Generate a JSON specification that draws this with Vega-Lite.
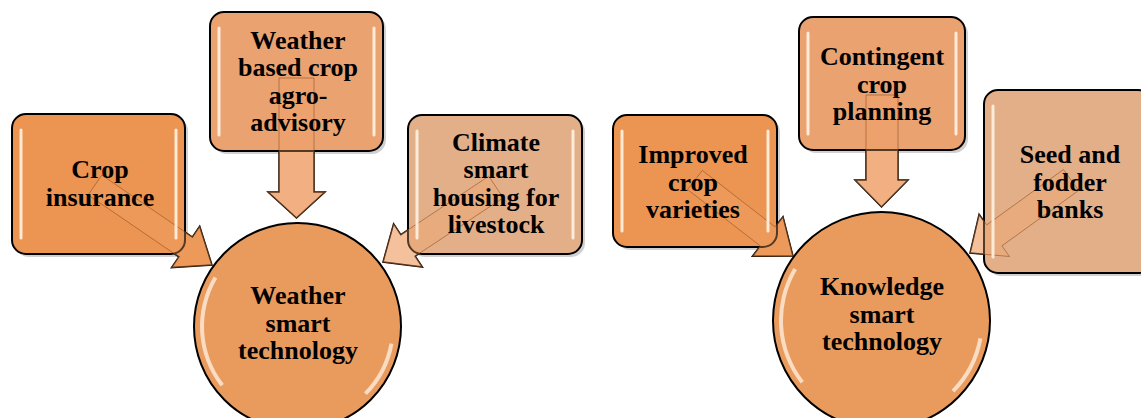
{
  "$schema": "https://vega.github.io/schema/vega-lite/v6.json",
  "width": 1141,
  "height": 418,
  "autosize": {"type": "fit", "contains": "padding"},
  "padding": 0,
  "background": "white",
  "config": {"view": {"stroke": null}},
  "datasets": {
    "boxes": [
      {"id": "b1", "x": 12, "x2": 185, "y": 114, "y2": 254, "tone": "orange"},
      {"id": "b2", "x": 210, "x2": 383, "y": 12, "y2": 151, "tone": "light"},
      {"id": "b3", "x": 408, "x2": 582, "y": 115, "y2": 254, "tone": "peach"},
      {"id": "b4", "x": 613, "x2": 777, "y": 115, "y2": 247, "tone": "orange"},
      {"id": "b5", "x": 799, "x2": 965, "y": 17, "y2": 150, "tone": "light"},
      {"id": "b6", "x": 984, "x2": 1152, "y": 90, "y2": 273, "tone": "peach"}
    ],
    "circles": [
      {"id": "c1", "x": 297.5, "y": 326.5, "d": 207, "tone": "circle"},
      {"id": "c2", "x": 881.5, "y": 320.5, "d": 217, "tone": "circle"}
    ],
    "arrows": [
      {"id": "a1", "i": 1, "x": 88.2, "y": 194.9, "tone": "orange"},
      {"id": "a1", "i": 2, "x": 178.8, "y": 256.8, "tone": "orange"},
      {"id": "a1", "i": 3, "x": 171.5, "y": 267.6, "tone": "orange"},
      {"id": "a1", "i": 4, "x": 212, "y": 265, "tone": "orange"},
      {"id": "a1", "i": 5, "x": 199.7, "y": 226.2, "tone": "orange"},
      {"id": "a1", "i": 6, "x": 192.4, "y": 237.0, "tone": "orange"},
      {"id": "a1", "i": 7, "x": 101.8, "y": 175.1, "tone": "orange"},
      {"id": "a1", "i": 8, "x": 88.2, "y": 194.9, "tone": "orange"},

      {"id": "a2", "i": 1, "x": 279, "y": 78, "tone": "arrowLight"},
      {"id": "a2", "i": 2, "x": 279, "y": 192, "tone": "arrowLight"},
      {"id": "a2", "i": 3, "x": 268, "y": 192, "tone": "arrowLight"},
      {"id": "a2", "i": 4, "x": 296.5, "y": 218, "tone": "arrowLight"},
      {"id": "a2", "i": 5, "x": 325, "y": 192, "tone": "arrowLight"},
      {"id": "a2", "i": 6, "x": 314, "y": 192, "tone": "arrowLight"},
      {"id": "a2", "i": 7, "x": 314, "y": 78, "tone": "arrowLight"},
      {"id": "a2", "i": 8, "x": 279, "y": 78, "tone": "arrowLight"},

      {"id": "a3", "i": 1, "x": 488.8, "y": 176.2, "tone": "arrowPeach"},
      {"id": "a3", "i": 2, "x": 400.8, "y": 234.6, "tone": "arrowPeach"},
      {"id": "a3", "i": 3, "x": 393.6, "y": 223.7, "tone": "arrowPeach"},
      {"id": "a3", "i": 4, "x": 383, "y": 262, "tone": "arrowPeach"},
      {"id": "a3", "i": 5, "x": 422.4, "y": 267.1, "tone": "arrowPeach"},
      {"id": "a3", "i": 6, "x": 415.2, "y": 256.2, "tone": "arrowPeach"},
      {"id": "a3", "i": 7, "x": 503.2, "y": 197.8, "tone": "arrowPeach"},
      {"id": "a3", "i": 8, "x": 488.8, "y": 176.2, "tone": "arrowPeach"},

      {"id": "a4", "i": 1, "x": 687.6, "y": 189.5, "tone": "orange"},
      {"id": "a4", "i": 2, "x": 760.3, "y": 245.9, "tone": "orange"},
      {"id": "a4", "i": 3, "x": 752.4, "y": 256.2, "tone": "orange"},
      {"id": "a4", "i": 4, "x": 793, "y": 256, "tone": "orange"},
      {"id": "a4", "i": 5, "x": 783, "y": 216.6, "tone": "orange"},
      {"id": "a4", "i": 6, "x": 775.1, "y": 226.9, "tone": "orange"},
      {"id": "a4", "i": 7, "x": 702.4, "y": 170.5, "tone": "orange"},
      {"id": "a4", "i": 8, "x": 687.6, "y": 189.5, "tone": "orange"},

      {"id": "a5", "i": 1, "x": 866, "y": 95, "tone": "arrowLight"},
      {"id": "a5", "i": 2, "x": 866, "y": 180, "tone": "arrowLight"},
      {"id": "a5", "i": 3, "x": 855, "y": 180, "tone": "arrowLight"},
      {"id": "a5", "i": 4, "x": 881.5, "y": 207, "tone": "arrowLight"},
      {"id": "a5", "i": 5, "x": 908, "y": 180, "tone": "arrowLight"},
      {"id": "a5", "i": 6, "x": 898, "y": 180, "tone": "arrowLight"},
      {"id": "a5", "i": 7, "x": 898, "y": 95, "tone": "arrowLight"},
      {"id": "a5", "i": 8, "x": 866, "y": 95, "tone": "arrowLight"},

      {"id": "a6", "i": 1, "x": 1063.4, "y": 169.5, "tone": "arrowPeach"},
      {"id": "a6", "i": 2, "x": 986.7, "y": 224.9, "tone": "arrowPeach"},
      {"id": "a6", "i": 3, "x": 979.1, "y": 214.3, "tone": "arrowPeach"},
      {"id": "a6", "i": 4, "x": 970, "y": 253, "tone": "arrowPeach"},
      {"id": "a6", "i": 5, "x": 1009.5, "y": 256.5, "tone": "arrowPeach"},
      {"id": "a6", "i": 6, "x": 1001.9, "y": 245.9, "tone": "arrowPeach"},
      {"id": "a6", "i": 7, "x": 1078.6, "y": 190.5, "tone": "arrowPeach"},
      {"id": "a6", "i": 8, "x": 1063.4, "y": 169.5, "tone": "arrowPeach"}
    ],
    "labels": [
      {"label": "Crop\ninsurance", "x": 100, "y": 170},
      {"label": "Weather\nbased crop\nagro-\nadvisory", "x": 298, "y": 40.5},
      {"label": "Climate\nsmart\nhousing for\nlivestock", "x": 496, "y": 142.5},
      {"label": "Improved\ncrop\nvarieties", "x": 693, "y": 155},
      {"label": "Contingent\ncrop\nplanning", "x": 882, "y": 57},
      {"label": "Seed and\nfodder\nbanks", "x": 1070, "y": 155},
      {"label": "Weather\nsmart\ntechnology", "x": 298, "y": 296},
      {"label": "Knowledge\nsmart\ntechnology", "x": 882, "y": 287}
    ]
  },
  "layer": [
    {
      "data": {"name": "boxes"},
      "mark": {"type": "rect", "cornerRadius": 14, "fill": "#777777", "opacity": 0.35, "xOffset": 3, "x2Offset": 3, "yOffset": 3, "y2Offset": 3, "clip": true},
      "encoding": {
        "x": {"field": "x", "type": "quantitative", "scale": {"domain": [0, 1141], "nice": false, "zero": false}, "axis": null},
        "x2": {"field": "x2"},
        "y": {"field": "y", "type": "quantitative", "scale": {"domain": [0, 418], "nice": false, "zero": false, "reverse": true}, "axis": null},
        "y2": {"field": "y2"}
      }
    },
    {
      "data": {"name": "circles"},
      "mark": {"type": "point", "shape": "circle", "filled": true, "stroke": "black", "strokeWidth": 2, "opacity": 1, "clip": true},
      "encoding": {
        "x": {"field": "x", "type": "quantitative", "scale": {"domain": [0, 1141], "nice": false, "zero": false}, "axis": null},
        "y": {"field": "y", "type": "quantitative", "scale": {"domain": [0, 418], "nice": false, "zero": false, "reverse": true}, "axis": null},
        "size": {"field": "d", "type": "quantitative", "scale": {"type": "pow", "exponent": 2, "domain": [0, 1000], "range": [0, 1000000]}, "legend": null},
        "fill": {"field": "tone", "type": "nominal", "scale": {"domain": ["orange", "light", "peach", "circle", "arrowLight", "arrowPeach"], "range": ["#EC9452", "#EBA271", "#E2AF89", "#E99B5D", "#F2B591", "#F7CFB9"]}, "legend": null}
      }
    },
    {
      "data": {"name": "circles"},
      "mark": {"type": "arc", "theta": 4.05, "theta2": 5.25, "radiusOffset": -6, "radius2Offset": -10, "fill": "#FFF1E4", "opacity": 0.75, "clip": true},
      "encoding": {
        "x": {"field": "x", "type": "quantitative", "scale": {"domain": [0, 1141], "nice": false, "zero": false}, "axis": null},
        "y": {"field": "y", "type": "quantitative", "scale": {"domain": [0, 418], "nice": false, "zero": false, "reverse": true}, "axis": null},
        "radius": {"field": "d", "type": "quantitative", "scale": {"type": "linear", "domain": [0, 1000], "range": [0, 500], "zero": true}, "legend": null},
        "radius2": {"field": "d"}
      }
    },
    {
      "data": {"name": "circles"},
      "mark": {"type": "arc", "theta": 1.75, "theta2": 2.35, "radiusOffset": -6, "radius2Offset": -10, "fill": "#FFF1E4", "opacity": 0.75, "clip": true},
      "encoding": {
        "x": {"field": "x", "type": "quantitative", "scale": {"domain": [0, 1141], "nice": false, "zero": false}, "axis": null},
        "y": {"field": "y", "type": "quantitative", "scale": {"domain": [0, 418], "nice": false, "zero": false, "reverse": true}, "axis": null},
        "radius": {"field": "d", "type": "quantitative", "scale": {"type": "linear", "domain": [0, 1000], "range": [0, 500], "zero": true}, "legend": null},
        "radius2": {"field": "d"}
      }
    },
    {
      "data": {"name": "arrows"},
      "mark": {"type": "line", "stroke": "black", "strokeWidth": 1.5, "strokeJoin": "miter", "interpolate": "linear"},
      "encoding": {
        "x": {"field": "x", "type": "quantitative", "scale": {"domain": [0, 1141], "nice": false, "zero": false}, "axis": null},
        "y": {"field": "y", "type": "quantitative", "scale": {"domain": [0, 418], "nice": false, "zero": false, "reverse": true}, "axis": null},
        "order": {"field": "i", "type": "quantitative"},
        "detail": {"field": "id", "type": "nominal"},
        "fill": {"field": "tone", "type": "nominal", "scale": {"domain": ["orange", "light", "peach", "circle", "arrowLight", "arrowPeach"], "range": ["#EC9452", "#EBA271", "#E2AF89", "#E99B5D", "#F2B591", "#F7CFB9"]}, "legend": null}
      }
    },
    {
      "data": {"name": "boxes"},
      "mark": {"type": "rect", "cornerRadius": 14, "stroke": "black", "strokeWidth": 2, "clip": true},
      "encoding": {
        "x": {"field": "x", "type": "quantitative", "scale": {"domain": [0, 1141], "nice": false, "zero": false}, "axis": null},
        "x2": {"field": "x2"},
        "y": {"field": "y", "type": "quantitative", "scale": {"domain": [0, 418], "nice": false, "zero": false, "reverse": true}, "axis": null},
        "y2": {"field": "y2"},
        "fill": {"field": "tone", "type": "nominal", "scale": {"domain": ["orange", "light", "peach", "circle", "arrowLight", "arrowPeach"], "range": ["#EC9452", "#EBA271", "#E2AF89", "#E99B5D", "#F2B591", "#F7CFB9"]}, "legend": null}
      }
    },
    {
      "data": {"name": "arrows"},
      "mark": {"type": "line", "stroke": "#8A4A1E", "strokeOpacity": 0.55, "strokeWidth": 1, "fill": "#F0A468", "fillOpacity": 0.35, "interpolate": "linear"},
      "encoding": {
        "x": {"field": "x", "type": "quantitative", "scale": {"domain": [0, 1141], "nice": false, "zero": false}, "axis": null},
        "y": {"field": "y", "type": "quantitative", "scale": {"domain": [0, 418], "nice": false, "zero": false, "reverse": true}, "axis": null},
        "order": {"field": "i", "type": "quantitative"},
        "detail": {"field": "id", "type": "nominal"}
      }
    },
    {
      "data": {"name": "boxes"},
      "mark": {"type": "rule", "stroke": "#FFF2E2", "strokeWidth": 3, "strokeCap": "round", "opacity": 0.9, "xOffset": 9, "yOffset": 16, "y2Offset": -16, "clip": true},
      "encoding": {
        "x": {"field": "x", "type": "quantitative", "scale": {"domain": [0, 1141], "nice": false, "zero": false}, "axis": null},
        "y": {"field": "y", "type": "quantitative", "scale": {"domain": [0, 418], "nice": false, "zero": false, "reverse": true}, "axis": null},
        "y2": {"field": "y2"}
      }
    },
    {
      "data": {"name": "boxes"},
      "mark": {"type": "rule", "stroke": "#FFF2E2", "strokeWidth": 3, "strokeCap": "round", "opacity": 0.9, "xOffset": -9, "yOffset": 16, "y2Offset": -16, "clip": true},
      "encoding": {
        "x": {"field": "x2", "type": "quantitative", "scale": {"domain": [0, 1141], "nice": false, "zero": false}, "axis": null},
        "y": {"field": "y", "type": "quantitative", "scale": {"domain": [0, 418], "nice": false, "zero": false, "reverse": true}, "axis": null},
        "y2": {"field": "y2"}
      }
    },
    {
      "data": {"name": "labels"},
      "mark": {"type": "text", "font": "Liberation Serif", "fontWeight": "bold", "fontSize": 26, "lineHeight": 27.5, "lineBreak": "\n", "align": "center", "baseline": "middle", "color": "black"},
      "encoding": {
        "x": {"field": "x", "type": "quantitative", "scale": {"domain": [0, 1141], "nice": false, "zero": false}, "axis": null},
        "y": {"field": "y", "type": "quantitative", "scale": {"domain": [0, 418], "nice": false, "zero": false, "reverse": true}, "axis": null},
        "text": {"field": "label", "type": "nominal"}
      }
    }
  ]
}
